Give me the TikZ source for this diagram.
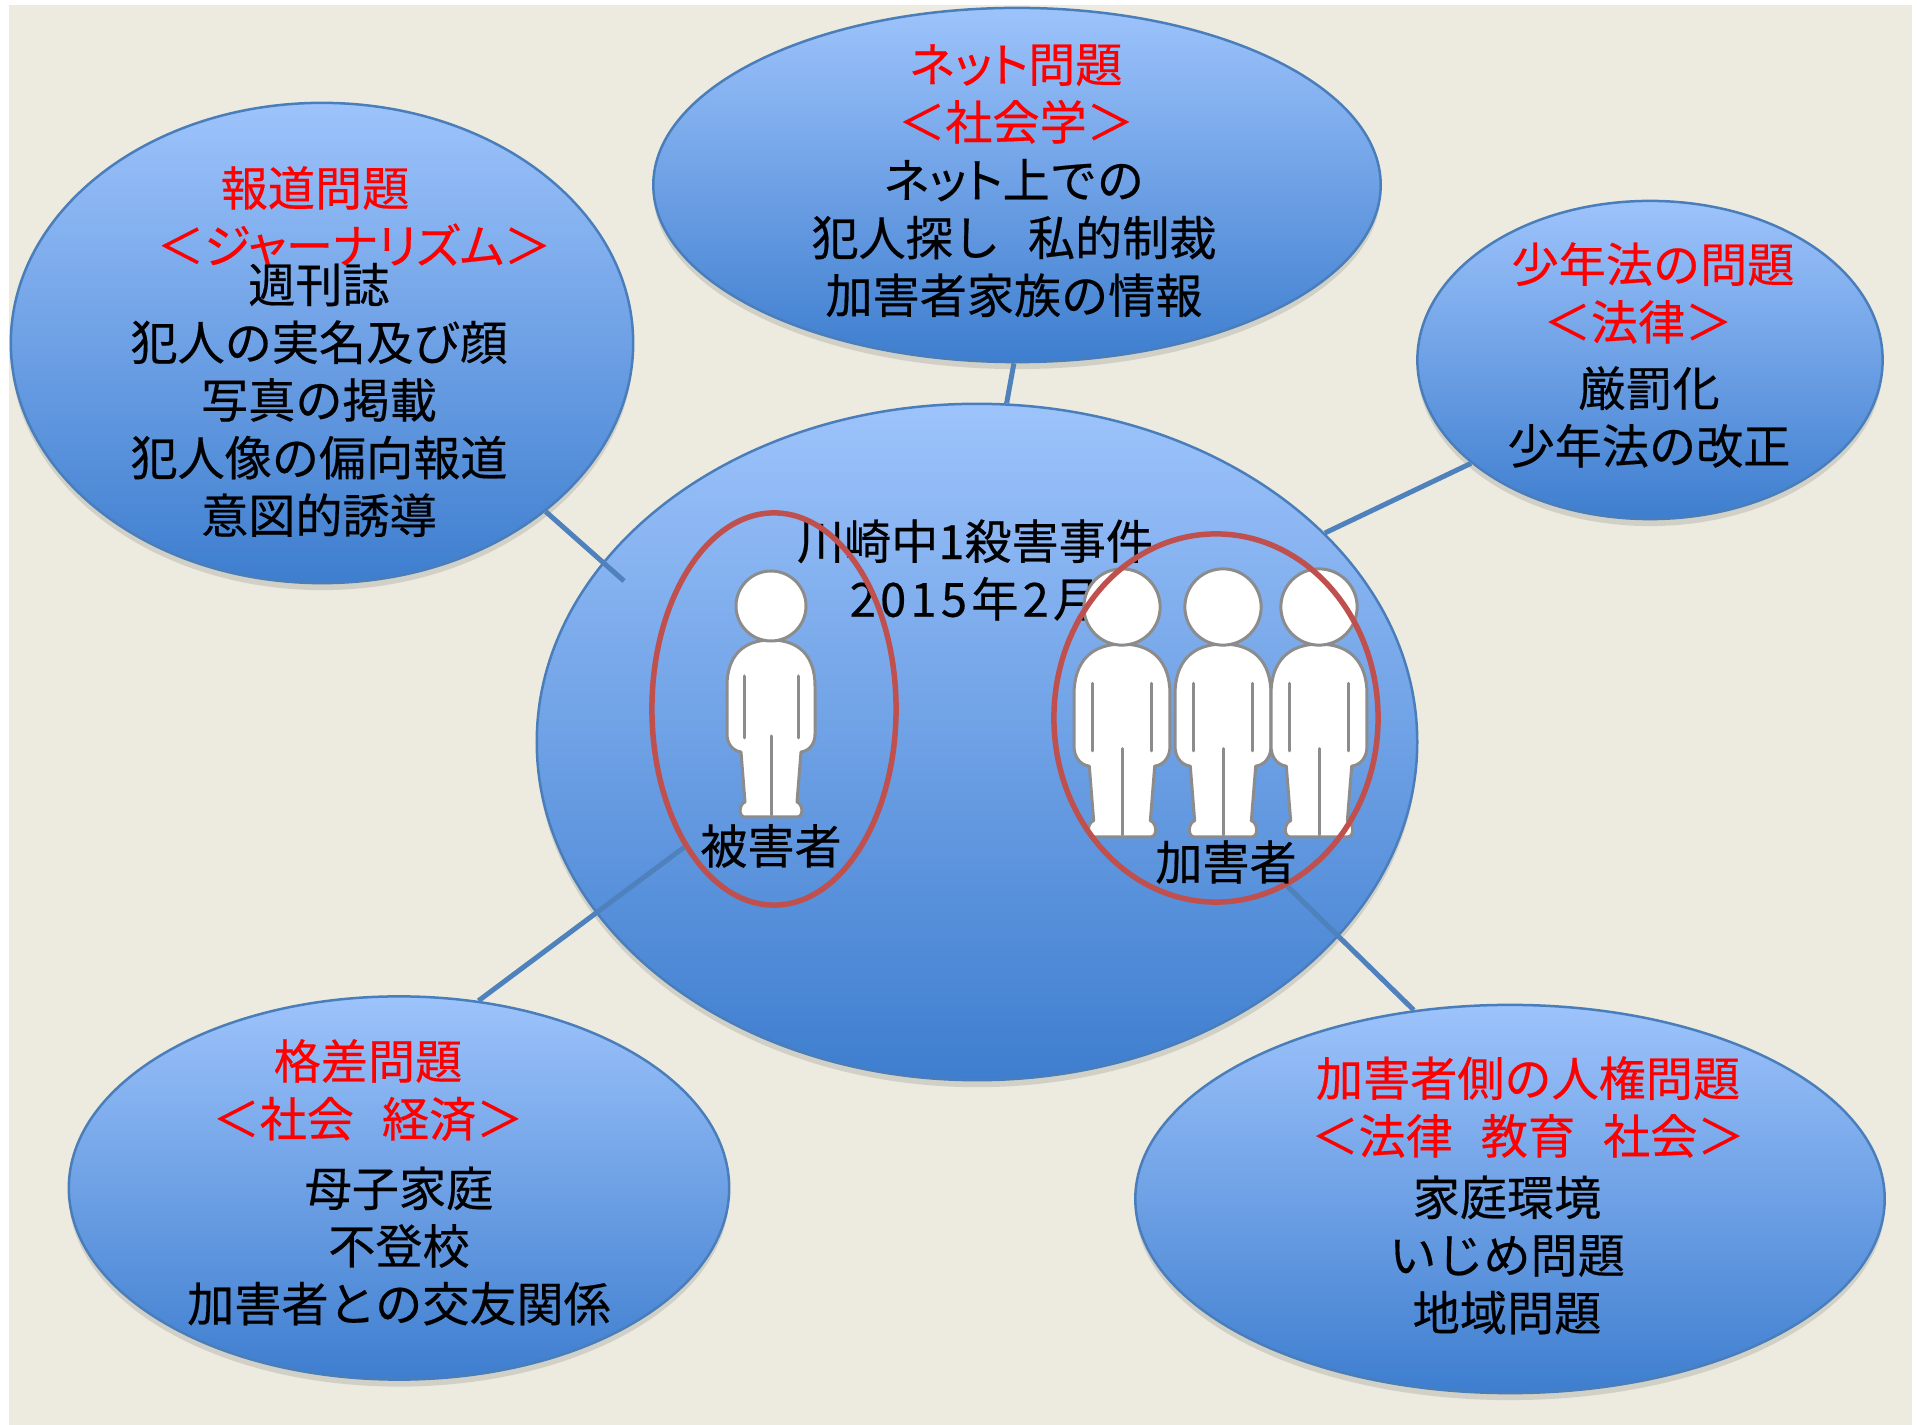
\documentclass[tikz,border=0pt]{standalone}
\usepackage{fontspec}
\setmainfont{Noto Sans CJK JP}[FakeBold=0.4]
\usetikzlibrary{shapes.geometric,shadows}
\definecolor{paper}{RGB}{237,235,224}
\definecolor{bubtop}{RGB}{157,195,251}
\definecolor{bubbot}{RGB}{62,126,207}
\definecolor{bubline}{RGB}{74,126,187}
\definecolor{linkblue}{RGB}{79,129,189}
\definecolor{ringred}{RGB}{192,80,77}
\definecolor{figgray}{RGB}{140,140,140}
\newcommand{\kana}[1]{{\addfontfeature{RawFeature=+palt}#1}}
\newcommand{\gap}{\hspace{0.28cm}}
\tikzset{
  bubble/.style={ellipse,draw=bubline,line width=0.025cm,top color=bubtop,bottom color=bubbot,
    inner sep=0pt,drop shadow={shadow xshift=0cm,shadow yshift=-0.07cm,opacity=0.25}},
  ring/.style={ellipse,draw=ringred,line width=0.055cm,inner sep=0pt},
  conn/.style={draw=linkblue,line width=0.05cm},
  ttl/.style={text=red,align=center,inner sep=0pt,font=\fontsize{13.4pt}{16.4pt}\selectfont},
  txt/.style={align=center,inner sep=0pt,font=\fontsize{13.4pt}{16.4pt}\selectfont},
  person/.pic={
    \draw[fill=white,draw=figgray,line width=0.03cm,line join=round]
      (0,34) .. controls (28,34) and (44,50) .. (44,80) -- (44,128)
      .. controls (44,138) and (38,145) .. (30,146) -- (26,196)
      .. controls (32,198) and (33,211) .. (26,211) -- (-26,211)
      .. controls (-33,211) and (-32,198) .. (-26,196) -- (-30,146)
      .. controls (-38,145) and (-44,138) .. (-44,128) -- (-44,80)
      .. controls (-44,50) and (-28,34) .. (0,34) -- cycle;
    \draw[figgray,line width=0.03cm,line cap=round]
      (-27,70) -- (-27,132) (27,70) -- (27,132) (0,130) -- (0,209);
    \draw[fill=white,draw=figgray,line width=0.03cm] (0,0) circle[radius=35];
  }
}
\begin{document}
\begin{tikzpicture}[x=0.01cm,y=-0.01cm]
\useasboundingbox (0,0) rectangle (1917,1425);
\fill[paper] (9,5) rectangle (1912,1425);

% bubbles
\node[bubble,minimum width=8.80cm,minimum height=6.76cm] (jiken) at (977,742) {};
\node[bubble,minimum width=6.22cm,minimum height=4.80cm] (hodo) at (322,343) {};
\node[bubble,minimum width=7.27cm,minimum height=3.54cm] (net) at (1017,185) {};
\node[bubble,minimum width=4.65cm,minimum height=3.18cm] (shonen) at (1650,360) {};
\node[bubble,minimum width=6.60cm,minimum height=3.83cm] (kakusa) at (399,1188) {};
\node[bubble,minimum width=7.49cm,minimum height=3.88cm] (jinken) at (1510,1199) {};

% texts
\node[ttl] (hodot) at (315,217) {報道問題\\\hspace*{0.78cm}\kana{＜ジャーナリズム＞}};
\node[txt] (hodob) at (319,400) {週刊誌\\犯人の実名及び顔\\写真の掲載\\犯人像の偏向報道\\意図的誘導};
\node[ttl] (nett) at (1016,94) {\kana{ネット}問題\\＜社会学＞};
\node[txt] (netb) at (1014,238) {\kana{ネット}上での\\犯人探し\gap 私的制裁\\加害者家族の情報};
\node[ttl] (shonent) at (1653,293) {少年法の問題\\＜法律＞\hspace*{0.3cm}};
\node[txt] (shonenb) at (1649,417) {厳罰化\\少年法の改正};
\node[txt] (jikent) at (975,570) {川崎中1殺害事件\\{\addfontfeature{LetterSpace=9}2015年2月}};
\node[ttl] (kakusat) at (368,1090) {格差問題\\＜社会\gap 経済＞};
\node[txt] (kakusab) at (399,1246) {母子家庭\\不登校\\加害者との交友関係};
\node[ttl] (jinkent) at (1528,1107) {加害者側の人権問題\\＜法律\gap 教育\gap 社会＞};
\node[txt] (jinkenb) at (1507,1255) {家庭環境\\いじめ問題\\地域問題};

% people
\pic at (771,606) {person};
\pic[scale=1.09] at (1122,607) {person};
\pic[scale=1.09] at (1223,607) {person};
\pic[scale=1.09] at (1319,607) {person};

\node[ring,minimum width=2.44cm,minimum height=3.92cm] (higai) at (774,709) {};
\node[ring,minimum width=3.24cm,minimum height=3.68cm] (kagai) at (1216,718) {};
\node[txt] (higail) at (771,846) {被害者};
\node[txt] (kagail) at (1226,862) {加害者};

% connectors
\coordinate (hodoend) at (624,581);
\draw[conn] (hodo.-37.7) -- (hodoend);
\draw[conn] (net.-91) -- (jiken.85.4);
\draw[conn] (shonen.210.3) -- (jiken.31.4);
\draw[conn] (kakusa.67.7) -- (higai.237.3);
\draw[conn] (jinken.117.3) -- (kagai.-67.3);
\end{tikzpicture}
\end{document}
